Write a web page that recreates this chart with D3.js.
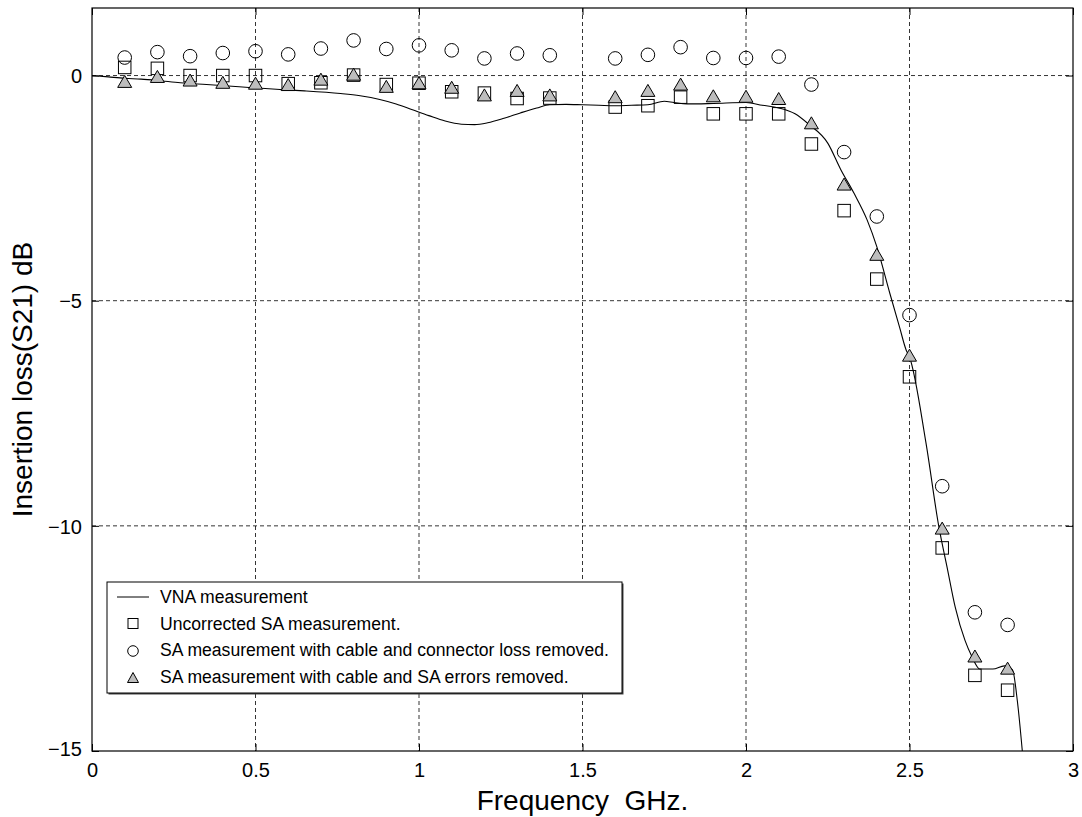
<!DOCTYPE html>
<html>
<head>
<meta charset="utf-8">
<script src="https://cdn.jsdelivr.net/npm/d3@7"></script>
<style>
  html, body { margin: 0; padding: 0; background: #fff; }
  svg { display: block; font-family: "Liberation Sans", Arial, Helvetica, sans-serif; }
</style>
</head>
<body>
<svg id="chart" width="1082" height="817"></svg>
<script>
// ---------- data ----------
const xTicks = [0, 0.5, 1, 1.5, 2, 2.5, 3];
const yTicks = [0, -5, -10, -15];

const vnaFreq = [0.00, 0.05, 0.10, 0.15, 0.20, 0.27, 0.35, 0.45, 0.575, 0.65, 0.76, 0.82, 0.88, 0.93, 0.98,
  1.03, 1.08, 1.13, 1.17, 1.21, 1.26, 1.31, 1.36, 1.40, 1.45, 1.50, 1.55, 1.60, 1.65, 1.70, 1.75, 1.78,
  1.82, 1.90, 2.00, 2.05, 2.10, 2.15, 2.19, 2.25, 2.29, 2.33, 2.37, 2.40, 2.44, 2.47, 2.49, 2.50, 2.55, 2.59,
  2.615, 2.64, 2.67, 2.69, 2.715, 2.755, 2.79, 2.815, 2.83, 2.845];
const vnaLoss = [0.00, -0.03, -0.06, -0.08, -0.11, -0.16, -0.20, -0.25, -0.31, -0.34, -0.40, -0.45, -0.53, -0.63, -0.76,
  -0.89, -1.01, -1.08, -1.09, -1.05, -0.95, -0.83, -0.72, -0.65, -0.64, -0.65, -0.66, -0.67, -0.66, -0.65, -0.57, -0.60,
  -0.63, -0.62, -0.60, -0.66, -0.72, -0.85, -1.07, -1.50, -2.09, -2.61, -3.20, -3.80, -4.84, -5.60, -6.10, -6.25, -8.14, -10.03,
  -10.92, -11.81, -12.55, -12.89, -13.18, -13.18, -13.11, -13.20, -13.90, -15.00];

const saFreq = [0.1, 0.2, 0.3, 0.4, 0.5, 0.6, 0.7, 0.8, 0.9, 1.0, 1.1, 1.2, 1.3, 1.4,
  1.6, 1.7, 1.8, 1.9, 2.0, 2.1, 2.2, 2.3, 2.4, 2.5, 2.6, 2.7, 2.8];
const uncorrected = [0.18, 0.16, 0.00, 0.00, 0.00, -0.18, -0.16, 0.01, -0.20, -0.17, -0.36, -0.39, -0.51, -0.50,
  -0.70, -0.67, -0.48, -0.85, -0.85, -0.85, -1.52, -3.00, -4.52, -6.69, -10.49, -13.32, -13.65];
const cableConnector = [0.40, 0.52, 0.43, 0.50, 0.54, 0.47, 0.60, 0.78, 0.59, 0.67, 0.56, 0.38, 0.49, 0.45,
  0.38, 0.46, 0.63, 0.39, 0.39, 0.42, -0.20, -1.70, -3.13, -5.32, -9.12, -11.92, -12.20];
const cableSA = [-0.13, -0.02, -0.10, -0.15, -0.17, -0.20, -0.08, 0.03, -0.24, -0.16, -0.26, -0.43, -0.33, -0.43,
  -0.47, -0.33, -0.19, -0.45, -0.46, -0.51, -1.05, -2.41, -3.97, -6.21, -10.05, -12.89, -13.16];

const legendLabels = [
  "VNA measurement",
  "Uncorrected SA measurement.",
  "SA measurement with cable and connector loss removed.",
  "SA measurement with cable and SA errors removed."
];

// ---------- layout ----------
const svg = d3.select("#chart");
const L = 92, R = 1073, T = 8, B = 751;
const x = d3.scaleLinear().domain([0, 3]).range([L, R]);
const y = d3.scaleLinear().domain([-15, 1.5]).range([B, T]);

const defs = svg.append("defs");
defs.append("clipPath").attr("id", "plotclip")
  .append("rect").attr("x", L).attr("y", T).attr("width", R - L).attr("height", B - T);

// grid
const grid = svg.append("g").attr("stroke", "#000").attr("stroke-width", 0.8)
  .attr("stroke-dasharray", "4,3").attr("fill", "none");
grid.selectAll(".gx").data(xTicks.filter(d => d > 0 && d < 3)).join("line")
  .attr("x1", d => x(d)).attr("x2", d => x(d)).attr("y1", T).attr("y2", B);
grid.selectAll(".gy").data(yTicks.filter(d => d > -15)).join("line")
  .attr("y1", d => y(d)).attr("y2", d => y(d)).attr("x1", L).attr("x2", R);

// axes (ticks inward, on all sides)
const tickLen = 7;
const axB = svg.append("g").attr("transform", `translate(0,${B})`)
  .call(d3.axisBottom(x).tickValues(xTicks).tickSize(-tickLen).tickPadding(tickLen + 5).tickFormat(d3.format("")));
const axT = svg.append("g").attr("transform", `translate(0,${T})`)
  .call(d3.axisTop(x).tickValues(xTicks).tickSize(-tickLen).tickFormat(""));
const axL = svg.append("g").attr("transform", `translate(${L},0)`)
  .call(d3.axisLeft(y).tickValues(yTicks).tickSize(-tickLen).tickPadding(tickLen + 3).tickFormat(d3.format("")));
const axR = svg.append("g").attr("transform", `translate(${R},0)`)
  .call(d3.axisRight(y).tickValues(yTicks).tickSize(-tickLen).tickFormat(""));
[axB, axT, axL, axR].forEach(a => {
  a.select(".domain").remove();
  a.selectAll(".tick line").attr("stroke", "#000").attr("stroke-width", 1);
  a.selectAll("text").attr("fill", "#000").style("font-size", "20px")
    .style("font-family", "'Liberation Sans', Arial, sans-serif");
});
axB.selectAll("text").attr("dy", "0.71em");
axL.selectAll("text").attr("dy", "0.36em");
axL.selectAll(".tick").filter(d => d === -15).select("text").attr("dy", "0.2em");

// frame
svg.append("rect").attr("x", L).attr("y", T).attr("width", R - L).attr("height", B - T)
  .attr("fill", "none").attr("stroke", "#000").attr("stroke-width", 1.2);

// titles
svg.append("text").attr("x", (L + R) / 2).attr("y", 810).attr("text-anchor", "middle")
  .style("font-size", "28px").style("white-space", "pre").attr("xml:space", "preserve")
  .text("Frequency  GHz.");
svg.append("text").attr("transform", `translate(32,${(T + B) / 2}) rotate(-90)`).attr("text-anchor", "middle")
  .style("font-size", "28px").text("Insertion loss(S21) dB");

// plot layer
const plot = svg.append("g").attr("clip-path", "url(#plotclip)");

const vna = vnaFreq.map((f, i) => [f, vnaLoss[i]]);
plot.append("path").datum(vna)
  .attr("fill", "none").attr("stroke", "#000").attr("stroke-width", 1.1)
  .attr("d", d3.line().x(d => x(d[0])).y(d => y(d[1])).curve(d3.curveMonotoneX));

const sqS = 12.5;
plot.selectAll(".sq").data(saFreq.map((f, i) => [f, uncorrected[i]])).join("rect")
  .attr("x", d => x(d[0]) - sqS / 2).attr("y", d => y(d[1]) - sqS / 2)
  .attr("width", sqS).attr("height", sqS)
  .attr("fill", "none").attr("stroke", "#000").attr("stroke-width", 1);

plot.selectAll(".ci").data(saFreq.map((f, i) => [f, cableConnector[i]])).join("circle")
  .attr("cx", d => x(d[0])).attr("cy", d => y(d[1])).attr("r", 6.8)
  .attr("fill", "none").attr("stroke", "#000").attr("stroke-width", 1);

const tri = (cx, cy, w, h) => `M${cx},${cy - h / 2}L${cx + w / 2},${cy + h / 2}L${cx - w / 2},${cy + h / 2}Z`;
plot.selectAll(".tr").data(saFreq.map((f, i) => [f, cableSA[i]])).join("path")
  .attr("d", d => tri(x(d[0]), y(d[1]), 14, 12))
  .attr("fill", "#bdbdbd").attr("stroke", "#000").attr("stroke-width", 1);

// legend
const lg = svg.append("g");
const lx = 107, ly = 582, lw = 515, lh = 111;
lg.append("rect").attr("x", lx + 1.5).attr("y", ly + 1.5).attr("width", lw).attr("height", lh).attr("fill", "#444");
lg.append("rect").attr("x", lx).attr("y", ly).attr("width", lw).attr("height", lh)
  .attr("fill", "#fff").attr("stroke", "#000").attr("stroke-width", 1);
const rowY = [597, 623.5, 650, 676.5];
const mx = 133;
lg.append("line").attr("x1", 117).attr("x2", 149).attr("y1", rowY[0]).attr("y2", rowY[0])
  .attr("stroke", "#000").attr("stroke-width", 1);
lg.append("rect").attr("x", mx - 5).attr("y", rowY[1] - 5).attr("width", 10).attr("height", 10)
  .attr("fill", "none").attr("stroke", "#000");
lg.append("circle").attr("cx", mx).attr("cy", rowY[2] + 1).attr("r", 5.3)
  .attr("fill", "none").attr("stroke", "#000");
lg.append("path").attr("d", tri(mx, rowY[3] + 1, 11, 10)).attr("fill", "#bdbdbd").attr("stroke", "#000");
lg.selectAll(".lt").data(legendLabels).join("text")
  .attr("x", 160).attr("y", (d, i) => rowY[i]).attr("dy", "0.36em")
  .style("font-size", "17.6px").text(d => d);
</script>
</body>
</html>
